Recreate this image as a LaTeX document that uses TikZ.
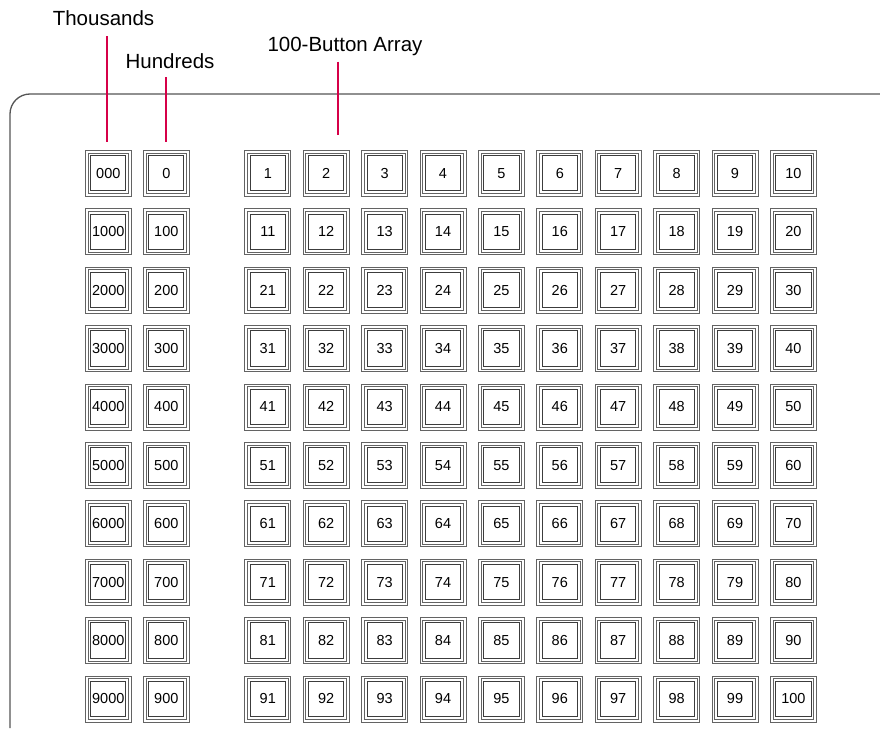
\documentclass[tikz,border=0pt]{standalone}
\usepackage{fontspec}
\setmainfont{Liberation Sans}
\usetikzlibrary{positioning}
\usetikzlibrary{calc}
\definecolor{figGuia}{RGB}{214,0,72}
\definecolor{figPanelBorde}{RGB}{85,85,85}
\definecolor{figBotonBorde}{RGB}{60,60,60}
\tikzset{
  boton/.style={
    rectangle, draw=figBotonBorde!80, line width=0.8pt, fill=white,
    minimum size=46pt, inner sep=0pt,
    font=\fontsize{14.5}{17}\selectfont,
    path picture={
      \draw[figBotonBorde!80, line width=0.8pt]
        ([shift={(2.6pt,2.6pt)}]path picture bounding box.south west)
        rectangle ([shift={(-2.6pt,-2.6pt)}]path picture bounding box.north east);
      \draw[figBotonBorde, line width=1pt]
        ([shift={(5.4pt,5.4pt)}]path picture bounding box.south west)
        rectangle ([shift={(-5.4pt,-5.4pt)}]path picture bounding box.north east);
    }
  },
  etiqueta/.style={font=\fontsize{20.5}{24}\selectfont, inner sep=0pt, anchor=base},
  guia/.style={draw=figGuia, line width=1.6pt},
  panel/.style={draw=figPanelBorde, line width=1.3pt, rounded corners=20pt}
}

\begin{document}
\begin{tikzpicture}[x=1pt, y=-1pt]
  \useasboundingbox (0,0) rectangle (880,728);

  % Panel
  \draw[panel] (880,94) -- (10,94) -- (10,728);

  % Columnas de millares y centenas
  \foreach \r in {0,...,9} {
    \pgfmathtruncatemacro{\cien}{100*\r}
    \ifnum\r=0 \def\mil{000}\else\pgfmathtruncatemacro{\mil}{1000*\r}\fi
    \node[boton] (mil-\r) at (108.3, 173.3+58.4*\r) {\mil};
    \node[boton] (cien-\r) at (166.3, 173.3+58.4*\r) {\cien};
  }

  % Arreglo de 100 botones
  \foreach \r in {0,...,9} {
    \foreach \c in {1,...,10} {
      \pgfmathtruncatemacro{\n}{10*\r+\c}
      \node[boton] (btn-\n) at (267.8+58.4*\c-58.4, 173.3+58.4*\r) {\n};
    }
  }

  % Etiquetas y guias
  \node[etiqueta] (lblMil) at (103.5,25) {Thousands};
  \node[etiqueta] (lblCien) at (170,68) {Hundreds};
  \node[etiqueta] (lblArreglo) at (345,51.7) {100-Button Array};

  \coordinate (puntaMil) at (106.7,141.7);
  \coordinate (puntaCien) at (166,141.7);
  \coordinate (puntaArreglo) at (337.7,135);

  \draw[guia, shorten <=11pt] (lblMil.base -| puntaMil) -- (puntaMil);
  \draw[guia, shorten <=9.3pt] (lblCien.base -| puntaCien) -- (puntaCien);
  \draw[guia, shorten <=10pt] (lblArreglo.base -| puntaArreglo) -- (puntaArreglo);
\end{tikzpicture}
\end{document}
